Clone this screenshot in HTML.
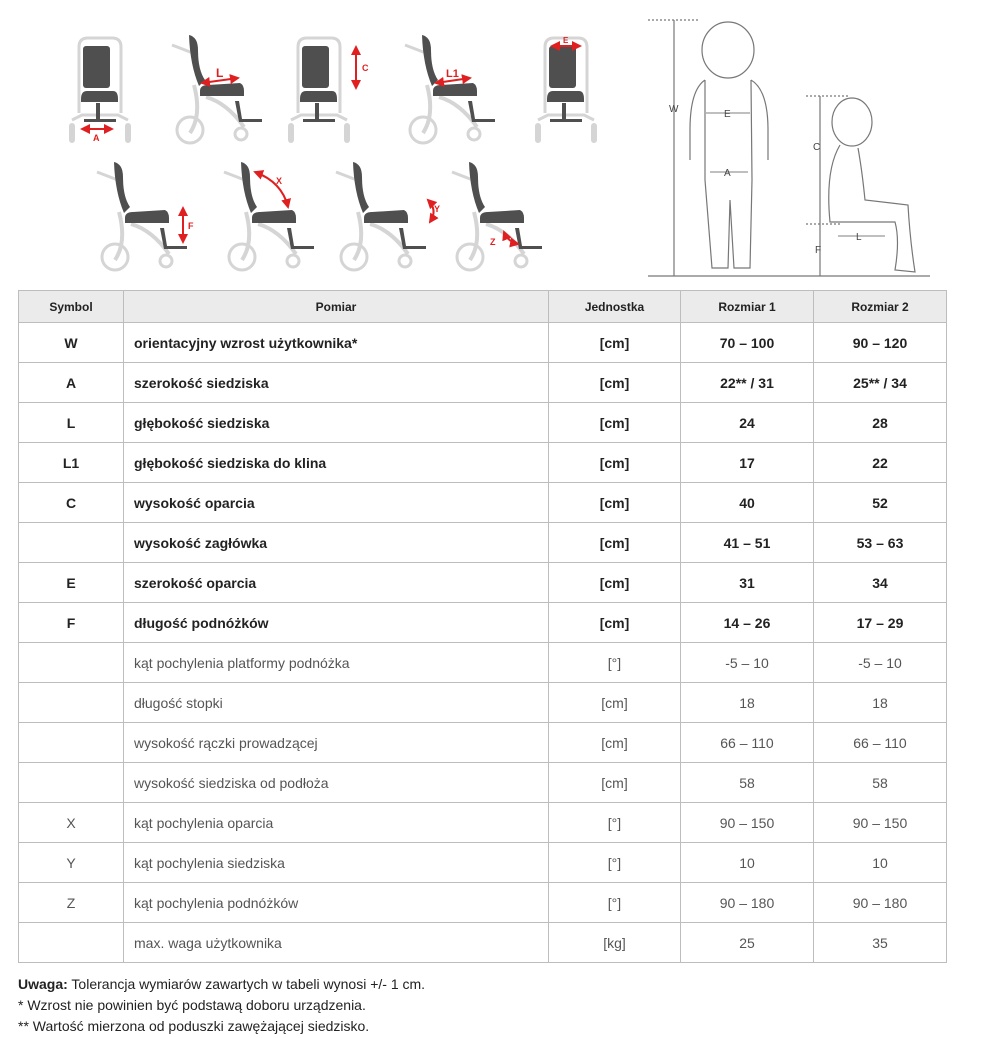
<!DOCTYPE html>
<html><head><meta charset="utf-8"><style>
body{margin:0;background:#fff;width:986px;height:1038px;position:relative;font-family:"Liberation Sans",sans-serif;color:#222;overflow:hidden}
svg{position:absolute;left:0;top:0}
table{position:absolute;left:18px;top:290px;border-collapse:collapse;width:928px;table-layout:fixed}
td,th{border:1px solid #bdbdbd;text-align:center;font-size:14px;height:39px;padding:0}
th{background:#ebebeb;font-size:12px;height:31px;font-weight:bold}
td.p{text-align:left;padding-left:10px}
tr.b td{font-weight:bold}
tr.n td{color:#555;font-size:14px}
.notes{position:absolute;left:18px;top:974px;font-size:14px;line-height:21px;color:#222}
</style></head><body>
<svg width="986" height="290" viewBox="0 0 986 290">
<defs>
<g id="front">
<path d="M5 78 L5 12 Q5 3 14 3 L38 3 Q47 3 47 12 L47 78" fill="none" stroke="#d5d5d5" stroke-width="3"/>
<path d="M-2 85 L8 80 L44 80 L54 85" fill="none" stroke="#d5d5d5" stroke-width="3"/>
<rect x="-5" y="88" width="6" height="20" rx="3" fill="#d5d5d5"/><rect x="51" y="88" width="6" height="20" rx="3" fill="#d5d5d5"/>
<rect x="9" y="11" width="27" height="42" rx="3" fill="#4f4f4f"/>
<path d="M7 64 Q7 56 13 56 L39 56 Q44 56 44 64 L44 67 L7 67 Z" fill="#4f4f4f"/>
<rect x="22" y="68" width="4" height="17" fill="#4f4f4f"/>
<rect x="10" y="84" width="32" height="3" fill="#4f4f4f"/>
</g>
<g id="side">
<line x1="0" y1="10" x2="26" y2="20" stroke="#d5d5d5" stroke-width="3"/>
<path d="M22 50 Q30 80 18 98 M34 62 Q55 68 72 92" fill="none" stroke="#d5d5d5" stroke-width="4"/>
<circle cx="18" cy="95" r="13" fill="none" stroke="#d5d5d5" stroke-width="3"/>
<circle cx="69" cy="99" r="6" fill="none" stroke="#d5d5d5" stroke-width="3"/>
<path d="M17 0 Q26 2 26 15 Q26 35 33 45 L27 51 Q18 30 17 0 Z" fill="#4f4f4f"/>
<path d="M28 56 Q28 50 36 50 L68 48 Q72 50 72 56 L72 61 L28 61 Z" fill="#4f4f4f"/>
<path d="M67 66 L70 84 L90 84 L90 87 L67 87 L63 66 Z" fill="#4f4f4f"/>
</g>
<marker id="ar" viewBox="0 0 10 10" refX="8" refY="5" markerWidth="5" markerHeight="5" orient="auto-start-reverse"><path d="M0 0 L10 5 L0 10 Z" fill="#e02020"/></marker>
</defs>
<g fill="#e02020" font-size="9" font-weight="bold" font-family="Liberation Sans">
<use href="#front" x="74" y="35"/>
<line x1="82" y1="129" x2="112" y2="129" stroke="#e02020" stroke-width="2" marker-start="url(#ar)" marker-end="url(#ar)"/><text x="93" y="141">A</text>
<use href="#side" x="172" y="35"/>
<line x1="202" y1="83" x2="238" y2="78" stroke="#e02020" stroke-width="2" marker-start="url(#ar)" marker-end="url(#ar)"/><text x="216" y="77" font-size="12">L</text>
<use href="#front" x="293" y="35"/>
<line x1="356" y1="47" x2="356" y2="88" stroke="#e02020" stroke-width="2" marker-start="url(#ar)" marker-end="url(#ar)"/><text x="362" y="71">C</text>
<use href="#side" x="405" y="35"/>
<line x1="436" y1="83" x2="470" y2="78" stroke="#e02020" stroke-width="2" marker-start="url(#ar)" marker-end="url(#ar)"/><text x="446" y="77" font-size="11">L1</text>
<use href="#front" x="540" y="35"/>
<line x1="552" y1="46" x2="580" y2="46" stroke="#e02020" stroke-width="2" marker-start="url(#ar)" marker-end="url(#ar)"/><text x="563" y="43" font-size="8">E</text>
<use href="#side" x="97" y="162"/>
<line x1="183" y1="208" x2="183" y2="242" stroke="#e02020" stroke-width="2" marker-start="url(#ar)" marker-end="url(#ar)"/><text x="188" y="229">F</text>
<use href="#side" x="224" y="162"/>
<path d="M255 172 Q282 182 288 207" fill="none" stroke="#e02020" stroke-width="2" marker-start="url(#ar)" marker-end="url(#ar)"/><text x="276" y="184">X</text>
<use href="#side" x="336" y="162"/>
<path d="M428 200 Q438 210 430 222" fill="none" stroke="#e02020" stroke-width="2" marker-start="url(#ar)" marker-end="url(#ar)"/><text x="434" y="212">Y</text>
<use href="#side" x="452" y="162"/>
<path d="M504 232 Q508 242 518 244" fill="none" stroke="#e02020" stroke-width="2" marker-start="url(#ar)" marker-end="url(#ar)"/><text x="490" y="245">Z</text>
</g>
<g fill="none" stroke="#777" stroke-width="1.2">
<line x1="648" y1="20" x2="700" y2="20" stroke-dasharray="2 2"/>
<line x1="648" y1="276" x2="930" y2="276"/>
<line x1="674" y1="20" x2="674" y2="276"/>
<ellipse cx="728" cy="50" rx="26" ry="28"/>
<path d="M705 80 Q690 90 690 130 L690 160 M751 80 Q768 90 768 130 L768 160 M705 80 L705 180 L712 268 L728 268 L730 200 L734 268 L750 268 L752 180 L751 80"/>
<line x1="706" y1="113" x2="750" y2="113" stroke="#999"/>
<line x1="710" y1="172" x2="748" y2="172" stroke="#999"/>
<line x1="806" y1="96" x2="850" y2="96" stroke-dasharray="2 2"/>
<line x1="820" y1="96" x2="820" y2="276"/>
<line x1="806" y1="224" x2="840" y2="224" stroke-dasharray="2 2"/>
<ellipse cx="852" cy="122" rx="20" ry="24"/>
<path d="M840 145 Q825 170 830 222 L895 222 Q900 240 895 270 L915 272 Q910 240 908 205 L865 200 Q862 170 858 148"/>
<line x1="838" y1="236" x2="885" y2="236" stroke="#999"/>
</g>
<g font-size="10" fill="#444" font-family="Liberation Sans">
<text x="669" y="112">W</text><text x="724" y="117">E</text><text x="724" y="176">A</text>
<text x="813" y="150">C</text><text x="815" y="253">F</text><text x="856" y="240">L</text>
</g>
</svg>
<table>
<colgroup><col style="width:105px"><col style="width:425px"><col style="width:132px"><col style="width:133px"><col style="width:133px"></colgroup>
<tr><th>Symbol</th><th>Pomiar</th><th>Jednostka</th><th>Rozmiar 1</th><th>Rozmiar 2</th></tr>
<tr class="b"><td>W</td><td class="p">orientacyjny wzrost użytkownika*</td><td>[cm]</td><td>70 – 100</td><td>90 – 120</td></tr>
<tr class="b"><td>A</td><td class="p">szerokość siedziska</td><td>[cm]</td><td>22** / 31</td><td>25** / 34</td></tr>
<tr class="b"><td>L</td><td class="p">głębokość siedziska</td><td>[cm]</td><td>24</td><td>28</td></tr>
<tr class="b"><td>L1</td><td class="p">głębokość siedziska do klina</td><td>[cm]</td><td>17</td><td>22</td></tr>
<tr class="b"><td>C</td><td class="p">wysokość oparcia</td><td>[cm]</td><td>40</td><td>52</td></tr>
<tr class="b"><td></td><td class="p">wysokość zagłówka</td><td>[cm]</td><td>41 – 51</td><td>53 – 63</td></tr>
<tr class="b"><td>E</td><td class="p">szerokość oparcia</td><td>[cm]</td><td>31</td><td>34</td></tr>
<tr class="b"><td>F</td><td class="p">długość podnóżków</td><td>[cm]</td><td>14 – 26</td><td>17 – 29</td></tr>
<tr class="n"><td></td><td class="p">kąt pochylenia platformy podnóżka</td><td>[°]</td><td>-5 – 10</td><td>-5 – 10</td></tr>
<tr class="n"><td></td><td class="p">długość stopki</td><td>[cm]</td><td>18</td><td>18</td></tr>
<tr class="n"><td></td><td class="p">wysokość rączki prowadzącej</td><td>[cm]</td><td>66 – 110</td><td>66 – 110</td></tr>
<tr class="n"><td></td><td class="p">wysokość siedziska od podłoża</td><td>[cm]</td><td>58</td><td>58</td></tr>
<tr class="n"><td>X</td><td class="p">kąt pochylenia oparcia</td><td>[°]</td><td>90 – 150</td><td>90 – 150</td></tr>
<tr class="n"><td>Y</td><td class="p">kąt pochylenia siedziska</td><td>[°]</td><td>10</td><td>10</td></tr>
<tr class="n"><td>Z</td><td class="p">kąt pochylenia podnóżków</td><td>[°]</td><td>90 – 180</td><td>90 – 180</td></tr>
<tr class="n"><td></td><td class="p">max. waga użytkownika</td><td>[kg]</td><td>25</td><td>35</td></tr>
</table>
<div class="notes"><b>Uwaga:</b> Tolerancja wymiarów zawartych w tabeli wynosi +/- 1 cm.<br>* Wzrost nie powinien być podstawą doboru urządzenia.<br>** Wartość mierzona od poduszki zawężającej siedzisko.</div>
</body></html>
